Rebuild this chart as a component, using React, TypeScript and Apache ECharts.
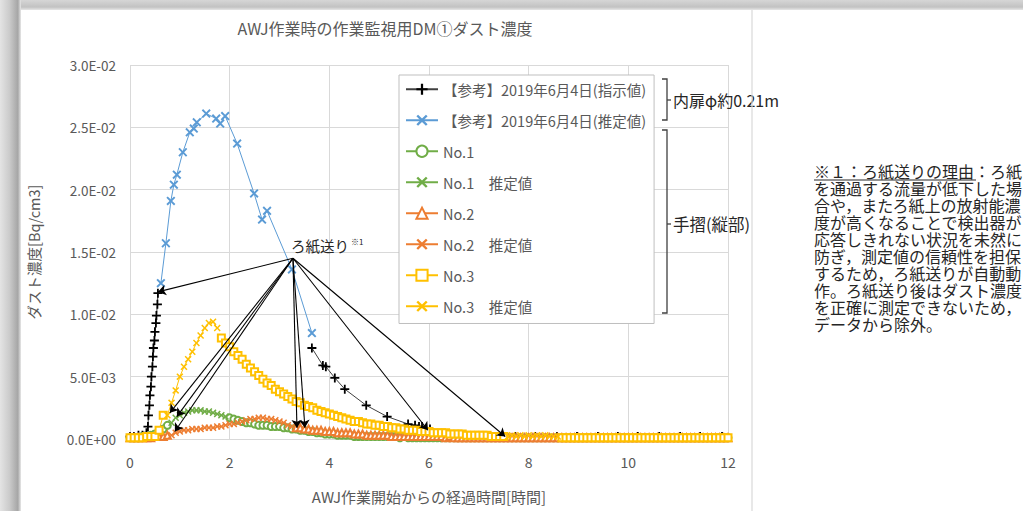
import React, { useEffect, useRef } from "react";
import * as echarts from "echarts";

const FONT = '"Noto Sans CJK JP", "Noto Sans", sans-serif';

const TITLE = "AWJ作業時の作業監視用DM①ダスト濃度";
const X_AXIS_NAME = "AWJ作業開始からの経過時間[時間]";
const Y_AXIS_NAME = "ダスト濃度[Bq/cm3]";
const X_MIN = 0;
const X_MAX = 12;
const X_STEP = 2;
const Y_MIN = 0;
const Y_MAX = 0.03;
const Y_STEP = 0.005;

const SERIES_NAMES = [
  "【参考】2019年6月4日(指示値)",
  "【参考】2019年6月4日(推定値)",
  "No.1",
  "No.1　推定値",
  "No.2",
  "No.2　推定値",
  "No.3",
  "No.3　推定値",
];
const SERIES_COLORS = ["#000000", "#5B9BD5", "#70AD47", "#70AD47", "#ED7D31", "#ED7D31", "#FFC000", "#FFC000"];

// sampling interval of the No.1-No.3 monitors (minutes)
const SAMPLE_MIN = 5;

// 【参考】指示値 : [hour, Bq/cm3] segments (gaps = ろ紙送り)
const REF_IND_SEG1: number[][] = [
  [0.0, 0.0002], [0.08, 0.0002], [0.17, 0.0003], [0.25, 0.0003], [0.33, 0.0005],
  [0.36, 0.001], [0.37, 0.0019], [0.39, 0.0027], [0.4, 0.0035], [0.42, 0.0042],
  [0.43, 0.005], [0.45, 0.0058], [0.46, 0.0066], [0.47, 0.0073], [0.49, 0.0079],
  [0.5, 0.0086], [0.52, 0.0093], [0.53, 0.0099], [0.55, 0.0108], [0.56, 0.0117],
];
const REF_IND_SEG2: number[][] = [
  [3.65, 0.0073], [3.87, 0.0059], [3.93, 0.0058], [4.11, 0.0049], [4.31, 0.004],
  [4.74, 0.0027], [5.16, 0.0018], [5.58, 0.0012], [5.72, 0.0011], [5.8, 0.001],
  [5.86, 0.001], [6.02, 0.0008],
];
const REF_IND_SEG3: number[][] = [
  [7.55, 0.0002], [7.73, 0.0002], [8.13, 0.0002], [8.57, 0.0002], [8.97, 0.0002],
  [9.39, 0.0002], [9.79, 0.0002], [10.19, 0.0002], [10.62, 0.0002], [11.04, 0.0002],
  [11.44, 0.0002], [11.88, 0.0002],
];

// 【参考】推定値 : [hour, Bq/cm3]
const REF_EST: number[][] = [
  [0.62, 0.0125], [0.72, 0.0157], [0.82, 0.0191], [0.88, 0.0204], [0.94, 0.0212],
  [1.06, 0.023], [1.2, 0.0246], [1.28, 0.0249], [1.34, 0.0254], [1.53, 0.0261],
  [1.73, 0.0257], [1.81, 0.0253], [1.91, 0.0259], [2.15, 0.0237], [2.49, 0.0197],
  [2.65, 0.0176], [2.75, 0.0183], [3.25, 0.0136], [3.65, 0.0085],
];

// No.1 measured
const NO1_SEG1_START = 0;
const NO1_SEG1 = [0.0001, 0.0001, 0.0001, 0.0002, 0.0002, 0.0003, 0.0004, 0.0005, 0.0008, 0.0011];
const NO1_SEG2_START = 120;
const NO1_SEG2 = [
  0.0017, 0.0016, 0.0015, 0.0014, 0.0013, 0.0013, 0.0012, 0.0011, 0.0011, 0.0011,
  0.001, 0.001, 0.001, 0.0009, 0.0009, 0.0008, 0.0008, 0.0007, 0.0007, 0.0006,
  0.0006, 0.0005, 0.0005, 0.0004, 0.0004,
  0.0004, 0.0003, 0.0003, 0.0003, 0.0003, 0.0002, 0.0002, 0.0002, 0.0002, 0.0002, 0.0002, 0.0002,
  0.0002, 0.0002, 0.0002, 0.0002, 0.0001, 0.0002, 0.0001, 0.0001, 0.0001, 0.0001, 0.0001, 0.0001,
  0.0001, 0.0001, 0.0001, 0.0001, 0.0001, 0.0001, 0.0001, 0.0001, 0.0001, 0.0001, 0.0001, 0.0001,
  0.0001, 0.0001, 0.0001, 0.0001, 0.0001, 0.0001, 0.0001, 0.0001, 0.0001, 0.0001, 0.0001, 0.0001,
  0.0001, 0.0001, 0.0001, 0.0001, 0.0001, 0.0001, 0.0001, 0.0001, 0.0001, 0.0001, 0.0001, 0.0001,
  0.0001, 0.0001, 0.0001, 0.0001, 0.0001, 0.0001, 0.0001, 0.0001, 0.0001, 0.0001, 0.0001, 0.0001,
  0.0001, 0.0001, 0.0001, 0.0001, 0.0001, 0.0001, 0.0001, 0.0001, 0.0001, 0.0001, 0.0001, 0.0001,
  0.0001, 0.0001, 0.0001, 0.0001, 0.0001, 0.0001, 0.0001, 0.0001, 0.0001, 0.0001, 0.0001, 0.0001,
];
const NO1_EST_START = 50;
const NO1_EST = [0.0013, 0.0017, 0.0019, 0.0021, 0.0022, 0.0023, 0.0023, 0.0023, 0.0022, 0.0022, 0.0021, 0.002, 0.0019, 0.0018];

// No.2 measured
const NO2_SEG1_START = 0;
const NO2_SEG1 = [0.0001, 0.0001, 0.0001, 0.0001, 0.0001, 0.0001, 0.0002, 0.0002, 0.0002, 0.0003];
const NO2_SEG2_START = 200;
const NO2_SEG2 = [
  0.0009, 0.0009, 0.0008, 0.0008, 0.0007, 0.0007, 0.0007, 0.0006, 0.0006, 0.0006,
  0.0005, 0.0005, 0.0005, 0.0005, 0.0004, 0.0004, 0.0004, 0.0003,
  0.0003, 0.0003, 0.0003, 0.0003, 0.0003, 0.0002, 0.0002, 0.0002, 0.0002, 0.0002, 0.0002, 0.0002,
  0.0002, 0.0002, 0.0002,
  0.0002, 0.0002, 0.0002, 0.0001, 0.0002, 0.0001, 0.0001, 0.0001, 0.0001, 0.0001, 0.0001, 0.0001,
  0.0001, 0.0001, 0.0001, 0.0001, 0.0001, 0.0001, 0.0001, 0.0001, 0.0001, 0.0001, 0.0001, 0.0001,
  0.0001, 0.0001, 0.0001, 0.0001, 0.0001, 0.0001, 0.0001, 0.0001, 0.0001, 0.0001, 0.0001, 0.0001,
  0.0001, 0.0001, 0.0001, 0.0001, 0.0001, 0.0001, 0.0001, 0.0001, 0.0001, 0.0001, 0.0001, 0.0001,
  0.0001, 0.0001, 0.0001, 0.0001, 0.0001, 0.0001, 0.0001, 0.0001, 0.0001, 0.0001, 0.0001, 0.0001,
  0.0001, 0.0001, 0.0001, 0.0001, 0.0001, 0.0001, 0.0001, 0.0001, 0.0001, 0.0001, 0.0001, 0.0001,
];
const NO2_EST_START = 50;
const NO2_EST = [
  0.0003, 0.0005, 0.0006, 0.0007, 0.0007, 0.0008, 0.0008, 0.0008, 0.0009, 0.0009,
  0.0009, 0.001, 0.001, 0.0011, 0.0012, 0.0012, 0.0013, 0.0014, 0.0015, 0.0016,
  0.0016, 0.0017, 0.0017, 0.0016, 0.0016, 0.0015, 0.0014, 0.0013, 0.0011, 0.001,
];

// No.3 measured
const NO3_SEG1_START = 0;
const NO3_SEG1 = [0.0001, 0.0001, 0.0001, 0.0001, 0.0002, 0.0002, 0.0002, 0.0007, 0.0019];
const NO3_SEG2_START = 110;
const NO3_SEG2 = [
  0.0081, 0.0077, 0.0074, 0.007, 0.0067, 0.0064, 0.006, 0.0057, 0.0054, 0.0051,
  0.0048, 0.0045, 0.0043, 0.004, 0.0038, 0.0036, 0.0034, 0.0032, 0.003, 0.0029,
  0.0027, 0.0026, 0.0025, 0.0023, 0.0022, 0.0021, 0.002, 0.0019, 0.0018, 0.0017,
  0.0016, 0.0015, 0.0014, 0.0014, 0.0013, 0.0012, 0.0012, 0.0011, 0.0011, 0.001,
  0.001, 0.0009, 0.0009, 0.0008, 0.0008, 0.0007, 0.0007, 0.0007, 0.0006, 0.0006,
  0.0006, 0.0005, 0.0005, 0.0005, 0.0005, 0.0004, 0.0004, 0.0004, 0.0004, 0.0003,
  0.0003, 0.0003, 0.0003, 0.0003, 0.0003, 0.0002, 0.0002, 0.0002, 0.0002,
];
const NO3_SEG3_START = 520;
const NO3_SEG3 = [
  0.0001, 0.0001, 0.0001, 0.0001, 0.0001, 0.0001, 0.0001, 0.0001, 0.0001, 0.0001, 0.0001, 0.0001,
  0.0001, 0.0001, 0.0001, 0.0001, 0.0001, 0.0001, 0.0001, 0.0001, 0.0001, 0.0001, 0.0001, 0.0001,
  0.0001, 0.0001, 0.0001, 0.0001, 0.0001, 0.0001, 0.0001, 0.0001, 0.0001, 0.0001, 0.0001, 0.0001,
  0.0001, 0.0001, 0.0001, 0.0001, 0.0001,
];
const NO3_EST1_START = 45;
const NO3_EST1 = [0.0019, 0.0029, 0.0039, 0.005, 0.0058, 0.0064, 0.007, 0.0077, 0.0083, 0.0089, 0.0093, 0.0094, 0.0089];
const NO3_EST2_START = 455;
const NO3_EST2 = [0.0002, 0.0003, 0.0002, 0.0003, 0.0002, 0.0003, 0.0002, 0.0003, 0.0002, 0.0003, 0.0002, 0.0002, 0.0002];

// ろ紙送り callout arrows [hour, Bq/cm3]
const ARROW_FROM = [3.27, 0.0145];
const ARROW_TO: number[][] = [
  [0.56, 0.0118], [0.8, 0.0021], [0.94, 0.0018], [0.9, 0.0006],
  [3.35, 0.0009], [3.51, 0.0009], [5.98, 0.0007], [7.53, 0.0002],
];

const NOTE_LINES = [
  "※１：ろ紙送りの理由：ろ紙",
  "を通過する流量が低下した場",
  "合や，またろ紙上の放射能濃",
  "度が高くなることで検出器が",
  "応答しきれない状況を未然に",
  "防ぎ，測定値の信頼性を担保",
  "するため，ろ紙送りが自動動",
  "作。ろ紙送り後はダスト濃度",
  "を正確に測定できないため，",
  "データから除外。",
];

const BREAK = [NaN, NaN];
const sampled = (startMin: number, values: number[]) =>
  values.map((v, i) => [(startMin + i * SAMPLE_MIN) / 60, v]);
const joinSegments = (segs: number[][][]) => {
  const out: number[][] = [];
  segs.forEach((s, k) => {
    if (k > 0) out.push(BREAK);
    s.forEach((p) => out.push(p));
  });
  return out;
};

const SYM_X = "path://M0,1.5L1.5,0L5,3.5L8.5,0L10,1.5L6.5,5L10,8.5L8.5,10L5,6.5L1.5,10L0,8.5L3.5,5Z";
const SYM_PLUS = "path://M4,0H6V4H10V6H6V10H4V6H0V4H4Z";

const sci = (v: number) => {
  if (v === 0) return "0.0E+00";
  const e = Math.floor(Math.log10(Math.abs(v)) + 1e-9);
  const m = v / Math.pow(10, e);
  return m.toFixed(1) + "E" + (e < 0 ? "-" : "+") + String(Math.abs(e)).padStart(2, "0");
};

export default function App() {
  const ref = useRef<HTMLDivElement>(null);
  useEffect(() => {
    document.body.style.margin = "0";
    if (!ref.current) return;
    const chart = echarts.init(ref.current, undefined, { renderer: "svg" });

    const seriesData = [
      joinSegments([REF_IND_SEG1, REF_IND_SEG2, REF_IND_SEG3]),
      REF_EST,
      joinSegments([sampled(NO1_SEG1_START, NO1_SEG1), sampled(NO1_SEG2_START, NO1_SEG2)]),
      sampled(NO1_EST_START, NO1_EST),
      joinSegments([sampled(NO2_SEG1_START, NO2_SEG1), sampled(NO2_SEG2_START, NO2_SEG2)]),
      sampled(NO2_EST_START, NO2_EST),
      joinSegments([
        sampled(NO3_SEG1_START, NO3_SEG1),
        sampled(NO3_SEG2_START, NO3_SEG2),
        sampled(NO3_SEG3_START, NO3_SEG3),
      ]),
      joinSegments([sampled(NO3_EST1_START, NO3_EST1), sampled(NO3_EST2_START, NO3_EST2)]),
    ];
    const symbols = [SYM_PLUS, SYM_X, "emptyCircle", SYM_X, "emptyTriangle", SYM_X, "emptyRect", SYM_X];
    const sizes = [9, 9, 7, 7, 7, 7, 7, 7];

    const series: any[] = SERIES_NAMES.map((name, i) => {
      const empty = symbols[i].startsWith("empty");
      return {
        type: "line",
        name,
        data: seriesData[i],
        symbol: symbols[i],
        symbolSize: sizes[i],
        showSymbol: true,
        connectNulls: false,
        lineStyle: { width: 1, color: i === 0 ? "#404040" : SERIES_COLORS[i] },
        itemStyle: empty
          ? { color: SERIES_COLORS[i], borderColor: SERIES_COLORS[i], borderWidth: 1.3 }
          : { color: SERIES_COLORS[i], borderWidth: 0 },
        emphasis: { disabled: true },
        silent: true,
      };
    });
    series.push({
      type: "line",
      name: "arrows",
      data: [],
      silent: true,
      z: 10,
      markLine: {
        silent: true,
        symbol: ["none", "arrow"],
        symbolSize: 8,
        lineStyle: { color: "#000", width: 1.1, type: "solid" },
        label: { show: false },
        emphasis: { disabled: true },
        data: ARROW_TO.map((t) => [{ coord: ARROW_FROM }, { coord: t }]),
      },
    });

    const txt = (text: string, x: number, y: number, size: number, extra: any = {}) => ({
      type: "text",
      x,
      y,
      z: 20,
      style: {
        text,
        fontSize: size,
        fontFamily: FONT,
        fill: "#262626",
        textAlign: "left",
        textVerticalAlign: "middle",
        align: "left",
        verticalAlign: "middle",
        ...extra,
      },
    });
    const bracket = (y1: number, y2: number, ym: number) => [
      {
        type: "polyline",
        z: 20,
        shape: { points: [[662, y1], [667, y1], [667, y2], [662, y2]] },
        style: { stroke: "#404040", lineWidth: 1.3, fill: "none" },
      },
      {
        type: "line",
        z: 20,
        shape: { x1: 667, y1: ym, x2: 671, y2: ym },
        style: { stroke: "#404040", lineWidth: 1.3 },
      },
    ];

    const option: any = {
      animation: false,
      backgroundColor: "#ffffff",
      textStyle: { fontFamily: FONT },
      grid: { left: 130, right: 295, top: 65, bottom: 72, containLabel: false },
      xAxis: {
        type: "value",
        min: X_MIN,
        max: X_MAX,
        interval: X_STEP,
        name: X_AXIS_NAME,
        nameLocation: "middle",
        nameGap: 50,
        nameTextStyle: { fontSize: 15, color: "#595959", fontFamily: FONT },
        axisLine: { show: true, lineStyle: { color: "#d9d9d9" } },
        axisTick: { show: false },
        axisLabel: { fontSize: 14, color: "#595959", margin: 16, fontFamily: FONT },
        splitLine: { show: true, lineStyle: { color: "#d9d9d9", width: 1 } },
      },
      yAxis: {
        type: "value",
        min: Y_MIN,
        max: Y_MAX,
        interval: Y_STEP,
        name: Y_AXIS_NAME,
        nameLocation: "middle",
        nameRotate: 90,
        nameGap: 89,
        nameTextStyle: { fontSize: 14.5, color: "#595959", fontFamily: FONT },
        axisLine: { show: false },
        axisTick: { show: false },
        axisLabel: { fontSize: 13.5, color: "#595959", margin: 14, formatter: sci, fontFamily: FONT },
        splitLine: { show: true, lineStyle: { color: "#d9d9d9", width: 1 } },
      },
      legend: {
        data: SERIES_NAMES,
        orient: "vertical",
        left: 399,
        top: 75,
        itemWidth: 32,
        itemHeight: 14,
        itemGap: 16.5,
        padding: [7, 8, 10, 6],
        backgroundColor: "#ffffff",
        borderColor: "#bfbfbf",
        borderWidth: 1,
        selectedMode: false,
        textStyle: { fontSize: 14.5, color: "#595959", fontFamily: FONT },
        z: 15,
      },
      series,
      graphic: [
        {
          type: "rect",
          z: 30,
          shape: { x: 0, y: 0, width: 1023, height: 10 },
          style: {
            fill: {
              type: "linear", x: 0, y: 0, x2: 0, y2: 1,
              colorStops: [
                { offset: 0, color: "#d6d6d6" },
                { offset: 0.7, color: "#c2c2c2" },
                { offset: 1, color: "#e6e6e6" },
              ],
            },
          },
        },
        {
          type: "rect",
          z: 30,
          shape: { x: 0, y: 0, width: 21, height: 511 },
          style: {
            fill: {
              type: "linear", x: 0, y: 0, x2: 1, y2: 0,
              colorStops: [
                { offset: 0, color: "#e4e4e4" },
                { offset: 0.45, color: "#cbcbcb" },
                { offset: 0.85, color: "#a6a6a6" },
                { offset: 1, color: "#e8e8e8" },
              ],
            },
          },
        },
        {
          type: "line",
          z: 30,
          shape: { x1: 752, y1: 10, x2: 752, y2: 511 },
          style: { stroke: "#d9d9d9", lineWidth: 1.2 },
        },
        txt(TITLE, 385, 28, 16, { fill: "#595959", textAlign: "center", align: "center" }),
        ...bracket(79, 120, 100),
        ...bracket(130, 313, 224),
        txt("内扉φ約0.21m", 673, 100, 16),
        txt("手摺(縦部)", 673, 224, 16.5),
        txt("ろ紙送り", 291, 245, 14.5),
        txt("※1", 351, 241, 8),
        {
          type: "text",
          x: 814,
          y: 162,
          z: 20,
          style: {
            text: NOTE_LINES.join("\n"),
            fontSize: 16,
            lineHeight: 17,
            fontFamily: FONT,
            fill: "#262626",
            textAlign: "left",
            textVerticalAlign: "top",
            align: "left",
            verticalAlign: "top",
          },
        },
        {
          type: "line",
          z: 20,
          shape: { x1: 814, y1: 180, x2: 976, y2: 180 },
          style: { stroke: "#262626", lineWidth: 1 },
        },
      ],
    };
    chart.setOption(option);
    return () => chart.dispose();
  }, []);
  return <div ref={ref} style={{ width: 1023, height: 511 }} />;
}
